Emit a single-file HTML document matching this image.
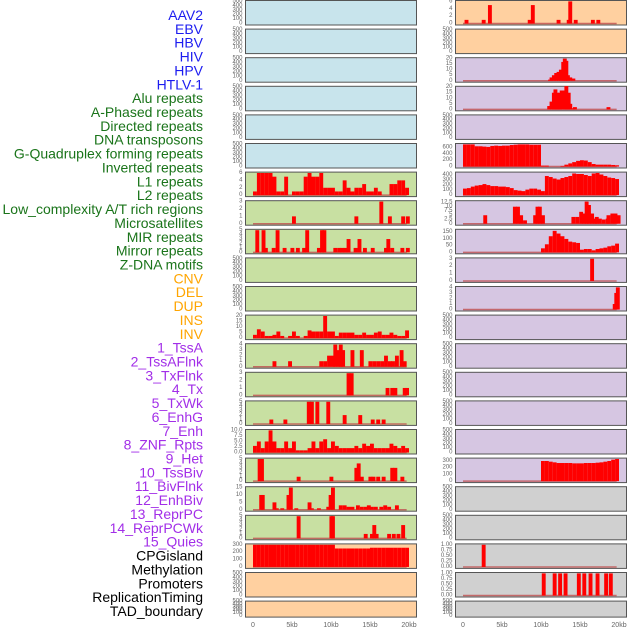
<!DOCTYPE html>
<html><head><meta charset="utf-8"><style>
html,body{margin:0;padding:0;background:#fff;}
svg{display:block;font-family:"Liberation Sans",sans-serif;}
</style></head><body>
<svg id="chart" width="630" height="630" viewBox="0 0 630 630" xmlns="http://www.w3.org/2000/svg"></svg>
<script>
// ---- data ----
const trackLabels = ["AAV2","EBV","HBV","HIV","HPV","HTLV-1","Alu repeats","A-Phased repeats","Directed repeats","DNA transposons","G-Quadruplex forming repeats","Inverted repeats","L1 repeats","L2 repeats","Low_complexity A/T rich regions","Microsatellites","MIR repeats","Mirror repeats","Z-DNA motifs","CNV","DEL","DUP","INS","INV","1_TssA","2_TssAFlnk","3_TxFlnk","4_Tx","5_TxWk","6_EnhG","7_Enh","8_ZNF_Rpts","9_Het","10_TssBiv","11_BivFlnk","12_EnhBiv","13_ReprPC","14_ReprPCWk","15_Quies","CPGisland","Methylation","Promoters","ReplicationTiming","TAD_boundary"];
const labelGroups = [6,13,5,15,5];
const labelColors = ["#1c1cf0","#1a741a","#ffa500","#a22ee8","#000000"];
const leftBg = ["b","b","b","b","b","b","g","g","g","g","g","g","g","g","g","g","g","g","g","o","o","o"];
const rightBg = ["o","o","p","p","p","p","p","p","p","p","p","p","p","p","p","p","p","g2","g2","g2","g2","g2"];
const xTicks = [0,5,10,15,20];
const xTickLabels = ["0","5kb","10kb","15kb","20kb"];
const blankTicks = [0,100,200,300,400,500];

const L6 = [1,6,6,6,6,5,1,1,5,0,1,1,1,5,6,5,5,6,2,2,2,1,1,4,2,1,2,2,3,1,1,2,1,0,0,3,3,4,4,2];
const L11 = [3,8,6,2,2,3,6,2,0,2,6,2,0,2,7,6,6,6,20,6,6,2,5,5,5,5,3,3,5,3,3,5,6,3,3,5,3,2,2,7];
const L15 = [3,5,2,5,10,5,2,2,5,2,5,1,1,1,2,5,2,5,6,2,5,3,2,2,2,2,3,2,4,3,4,2,2,2,2,4,3,2,3,2];
const L19 = [300,300,300,300,300,300,300,300,300,300,300,300,300,300,300,300,300,300,300,300,300,250,250,250,250,250,250,250,250,250,260,260,260,260,260,260,260,260,260,260];
const R5 = [700,700,700,640,640,630,620,650,660,650,660,660,680,690,700,700,700,690,690,690,30,30,0,0,0,20,60,100,140,180,200,190,140,80,60,60,60,60,50,40];
const R6 = [130,140,170,190,200,220,200,180,180,170,170,160,140,100,90,80,110,130,130,110,80,380,360,330,310,340,360,380,430,420,420,400,380,430,440,410,380,350,340,320];
const R8 = [0,0,0,0,0,0,0,0,0,0,0,0,0,0,0,0,0,0,0,0,30,60,120,160,140,120,100,80,75,70,20,25,25,15,25,30,35,45,50,65];
const R16 = [0,0,0,0,0,0,0,0,0,0,0,0,0,0,0,0,0,0,0,0,300,300,290,280,270,270,270,270,265,265,265,270,270,270,275,280,290,300,320,330];

const L7 = [[5,1],[13,1],[16.2,3],[17.3,1],[19,1],[19.6,1]];
const L8 = [[0.3,5],[1.1,5],[1.4,1],[2.4,1],[2.9,5],[3.8,1],[4.8,1],[5.5,1],[6.3,1],[6.7,5],[8.2,1],[8.6,5],[8.9,5],[10.3,1],[10.8,1],[11.2,1],[11.6,1],[12,3],[12.9,1],[13.4,3],[14.1,1],[15.1,1],[16.8,1],[17.1,3],[17.6,1],[18.9,1],[19.6,1]];
const L12 = [[2.5,1],[4.5,1],[8.5,1],[9,1],[9.5,2],[10,2],[10.3,4],[10.7,3],[11,4],[11.3,3],[12.5,3],[13.7,3],[14.8,1],[15.3,1],[15.8,1],[16.3,1],[16.8,2],[17.3,1],[17.7,1],[18.2,2],[18.8,3],[19.2,1]];
const L13 = [[12,3],[12.4,3],[17,1],[17.6,1],[18,1],[19.2,1],[19.5,1]];
const L14 = [[2.1,1],[3.9,1],[6.9,5],[7.3,5],[8,5],[9.4,5],[11.5,2],[13.5,2],[15.1,1],[15.8,1],[16.5,1]];
const L16 = [[0.6,5],[0.9,5],[5.6,1],[9.8,1],[13,3],[13.3,4],[13.7,1],[14.8,1],[15.2,1],[15.8,1],[16.5,1],[17.6,3],[18,3],[18.9,1]];
const L17 = [[0.8,10],[1,10],[2.5,5],[2.8,1],[3.5,1],[4.3,10],[4.6,15],[5.3,1],[7,5],[7.3,1],[8.2,1],[9.4,2],[9.7,10],[10,15],[11,3],[11.5,3],[12,2],[12.5,2],[13.2,3],[13.7,2],[14.2,2],[14.6,3],[15,2],[15.5,2],[16.2,2],[16.7,3],[17.2,2],[18.2,3]];
const L18 = [[5.6,5],[9.8,5],[10,5],[14.2,1],[15,1],[15.3,3],[15.6,1],[17.2,1],[17.8,1],[18.4,1],[19,3]];
const R0 = [[0.2,1],[2.4,1],[3.2,5],[8.3,1],[8.7,5],[12,1],[13.3,1],[13.5,6],[14.2,1],[16.4,1],[17.1,1]];
const R2 = [[10.9,1],[11.1,3],[11.4,5],[11.7,7],[12,8],[12.3,10],[12.6,17],[12.8,20],[13,18],[13.2,5],[13.5,3],[13.9,2]];
const R3 = [[10.8,3],[11.1,7],[11.4,15],[11.6,18],[11.8,15],[12,11],[12.2,15],[12.4,17],[12.8,17],[13,21],[13.3,15],[13.5,5],[13.9,1],[14.1,2],[18.4,2]];
const R7 = [[2.6,5],[6.4,10],[6.8,10],[7.2,5],[7.7,2],[9,5],[9.3,10],[9.6,10],[10,5],[13.9,4],[14.4,4],[14.9,7],[15.3,6],[15.6,13],[15.9,11],[16.3,6],[16.7,3],[16.9,4],[17.3,3],[17.8,2.5],[18.3,3],[18.4,5],[18.9,6],[19.3,6],[19.7,5]];
const R9 = [[16.3,3]];
const R10 = [[19.2,1],[19.4,3],[19.6,4]];
const R19 = [[2.4,1]];
const R20 = [[10.1,1],[11.5,1],[12.2,1],[12.9,1],[14.6,1],[15.3,1],[16.1,1],[17,1],[18.1,1],[18.7,1]];

const ticks6=[0,2,4,6], ticks3=[0,1,2,3], ticks5=[0,1,2,3,4,5], ticks4=[0,1,2,3,4], ticks20=[0,5,10,15,20], ticks15=[0,5,10,15], ticks10=[0,2.5,5,7.5,10], ticks300=[0,100,200,300], ticks1=[0,0.25,0.5,0.75,1];
const leftTracks = {6:[L6,ticks6,"dense"],7:[L7,ticks3],8:[L8,ticks5],11:[L11,ticks20,"dense"],12:[L12,ticks4],13:[L13,ticks3],14:[L14,ticks5],15:[L15,ticks10,"dense"],16:[L16,ticks5],17:[L17,ticks15],18:[L18,ticks5],19:[L19,ticks300,"dense"]};
const rightTracks = {0:[R0,ticks6],2:[R2,ticks20],3:[R3,ticks20],5:[R5,[0,200,400,600],"dense",700],6:[R6,[0,100,200,300,400],"dense",440],7:[R7,[0,2.5,5,7.5,10,12.5],null,13],8:[R8,[0,50,100,150],"dense",165],9:[R9,ticks3],10:[R10,ticks4],16:[R16,[0,100,200,300],"dense",330],19:[R19,ticks1],20:[R20,ticks1]};

const NS="http://www.w3.org/2000/svg";
const svg=document.getElementById("chart");
function mk(tag,attrs,parent){const e=document.createElementNS(NS,tag);for(const k in attrs)e.setAttribute(k,attrs[k]);(parent||svg).appendChild(e);return e;}
const bgColors={b:"#c8e4ec",g:"#c8e0a2",o:"#ffd0a0",p:"#d6c6e2",g2:"#d0d0d0"};
const PITCH=28.6;
const cols=[{x0:245.5,w:171,org:253,name:"left"},{x0:455.5,w:171,org:463,name:"right"}];
const KB=7.8;
function xs(col,kb){return col.org+kb*KB;}

let li=0;
labelGroups.forEach((n,g)=>{for(let i=0;i<n;i++){const t=mk("text",{x:203,y:15+li*13.86,"text-anchor":"end","dominant-baseline":"central","font-size":"14",fill:labelColors[g]});


t.textContent=trackLabels[li];li++;}});

function drawPanel(col,row,bg,track){
  const PH=row===21?16:24.5;
  const top=0.5+row*PITCH, bot=top+PH;
  const g=mk("g",{});
  
  
  const r=mk("rect",{x:col.x0,y:top,width:col.w,height:PH,fill:bgColors[bg],stroke:"#555","stroke-width":1},g);
  
  
  const ticks=track?track[1]:blankTicks;
  const maxT=track&&track[3]?track[3]:ticks[ticks.length-1];
  const span=maxT*1.06;
  const ys=v=>bot-1-(v+maxT*0.02)/span*(PH-1);
  ticks.forEach(t=>{const lab=mk("text",{x:col.x0-3,y:ys(t),"text-anchor":"end","dominant-baseline":"central","font-size":"6",fill:"#666"},g);
    
    
    lab.textContent=(ticks===ticks1)?t.toFixed(2):(ticks===ticks10?t.toFixed(1):String(t));});
  if(!track)return;
  const data=track[0];
  const base=mk("line",{x1:xs(col,0),x2:xs(col,19.7),y1:ys(0),y2:ys(0),stroke:"#c05050","stroke-width":1.5,opacity:0.8},g);
  
  
  const pts=track[2]==="dense"?data.map((v,i)=>[i*0.5,v]):data;
  pts.forEach(p=>{if(p[1]<=0)return;
    const b=mk("rect",{x:xs(col,p[0]),y:ys(p[1]),width:0.5*KB,height:ys(0)-ys(p[1]),fill:"#ff0000"},g);
    
    });
}
for(let r=0;r<22;r++){drawPanel(cols[0],r,leftBg[r],leftTracks[r]);drawPanel(cols[1],r,rightBg[r],rightTracks[r]);}

cols.forEach(col=>{xTicks.forEach((t,i)=>{const tx=mk("text",{x:xs(col,t),y:627,"text-anchor":"middle","font-size":"7",fill:"#666"});
  
  
  tx.textContent=xTickLabels[i];});});
</script>
</body></html>
